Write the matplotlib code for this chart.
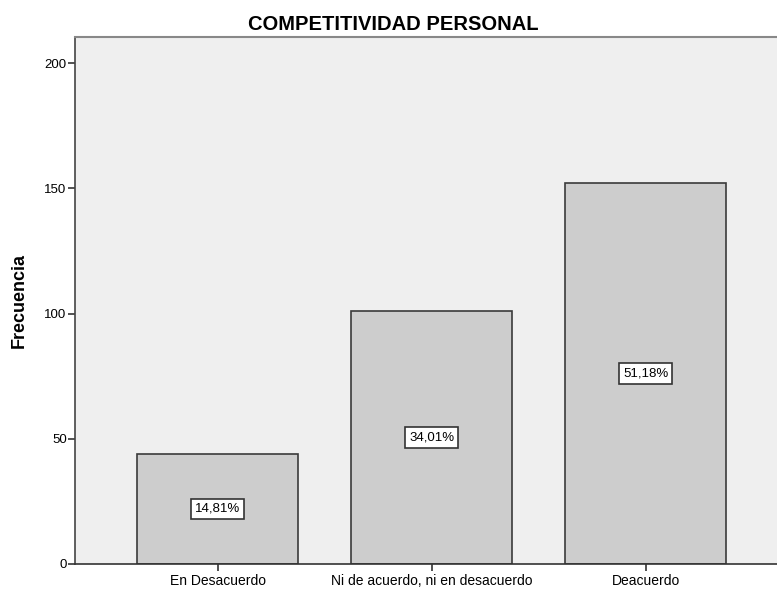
import matplotlib
matplotlib.use("Agg")
import matplotlib.pyplot as plt

plt.rcParams['font.family'] = ['Liberation Sans', 'DejaVu Sans']

categorias = ['En Desacuerdo', 'Ni de acuerdo, ni en desacuerdo', 'Deacuerdo']
frecuencias = [44, 101, 152]
porcentajes = ['14,81%', '34,01%', '51,18%']

fig = plt.figure(figsize=(7.77, 5.90), dpi=100)
ax = fig.add_axes([75 / 777, 26 / 590, 702 / 777, 527 / 590])
ax.set_facecolor('#efefef')

pos = list(range(len(categorias)))
ax.bar(pos, frecuencias, width=0.752, color='#cdcdcd', edgecolor='#3a3a3a', linewidth=1.2, zorder=2)

# etiquetas de porcentaje en caja blanca, a media altura de cada barra
for x, h, p in zip(pos, frecuencias, porcentajes):
    ax.text(x, h / 2, p, ha='center', va='center', fontsize=9.5, zorder=3,
            bbox=dict(boxstyle='square,pad=0.32', facecolor='white', edgecolor='#333333', linewidth=1.2))

ax.set_xlim(-0.666, 2.614)
ax.set_ylim(0, 210.4)
ax.set_yticks([0, 50, 100, 150, 200])
ax.set_xticks(pos)
ax.set_xticklabels(categorias, fontsize=10)
ax.tick_params(axis='y', labelsize=9.5, length=5, width=1.2, color='#333333', pad=1)
ax.tick_params(axis='x', length=5, width=1.2, color='#333333', pad=2)

ax.spines['right'].set_visible(False)
ax.spines['left'].set_color('#444444')
ax.spines['left'].set_linewidth(1.2)
ax.spines['bottom'].set_color('#333333')
ax.spines['bottom'].set_linewidth(1.2)
ax.spines['top'].set_color('#888888')
ax.spines['top'].set_linewidth(1.5)

fig.text(19 / 777, 1 - 300 / 590, 'Frecuencia', rotation=90, ha='center', va='center',
         fontsize=13, fontweight='bold')
fig.text(393 / 777, 1 - 24 / 590, 'COMPETITIVIDAD PERSONAL', ha='center', va='center',
         fontsize=14.5, fontweight='bold')

fig.savefig('out.png', dpi=100)
